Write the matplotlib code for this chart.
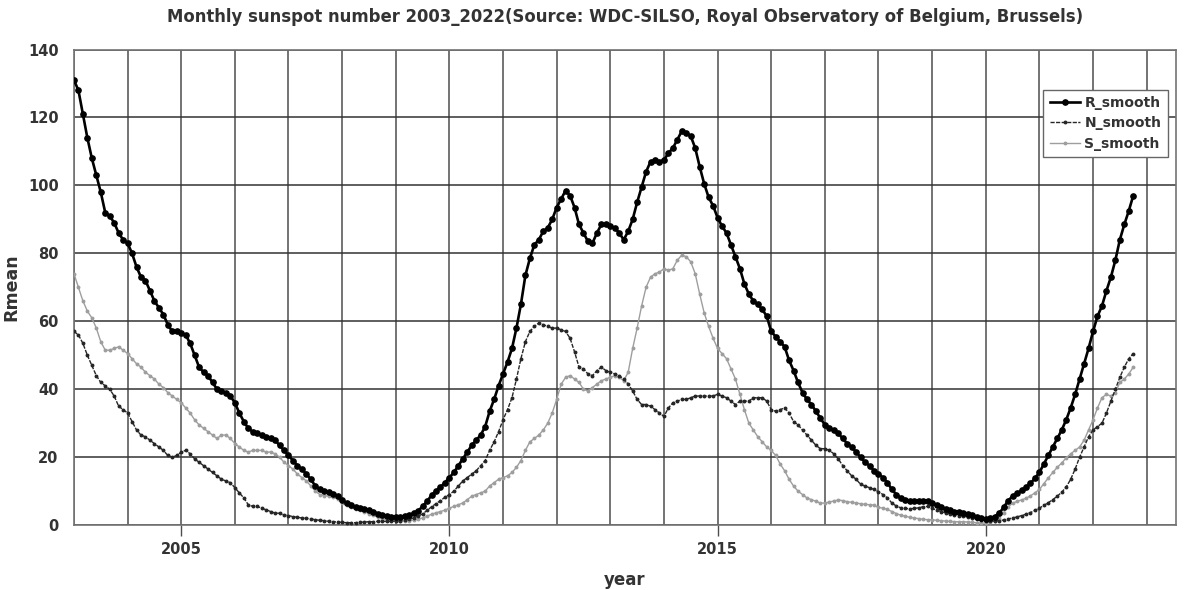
import matplotlib
matplotlib.use("Agg")
import matplotlib.pyplot as plt
from matplotlib.ticker import MultipleLocator, FixedLocator

# 13-month smoothed sunspot numbers (Jan 2003 .. Oct 2022)
r_smooth = [
    131, 128, 121, 114, 108, 103, 98, 92, 91, 89, 86, 84,                  # 2003
    83, 80, 76, 73, 72, 69, 66, 64, 62, 59, 57, 57,                        # 2004
    56.5, 56, 53.5, 50, 46.5, 45, 44, 42, 40, 39.5, 39, 38,                # 2005
    36, 33, 30.5, 28.5, 27.5, 27, 26.5, 26, 25.5, 25, 23.5, 22,            # 2006
    20.5, 19, 17.5, 16.5, 15, 13.5, 11.5, 10.5, 10, 9.8, 9.3, 8.5,         # 2007
    7.3, 6.5, 5.9, 5.4, 5.1, 4.8, 4.4, 3.9, 3.4, 3.0, 2.7, 2.5,            # 2008
    2.3, 2.4, 2.6, 3.0, 3.5, 4.2, 5.5, 7.0, 8.8, 10.0, 11.2, 12.5,         # 2009
    14, 15.5, 17.5, 19.5, 21.5, 23.5, 25, 26.5, 29, 33.5, 37, 41,          # 2010
    44.5, 48, 52, 58, 65, 73.5, 78.5, 82.5, 84, 86.5, 87.5, 90,            # 2011
    93.5, 96, 98.5, 97, 93.5, 88.5, 86, 83.5, 83, 86, 88.5, 88.5,          # 2012
    88, 87.5, 86, 84, 86.5, 90, 95, 99.5, 104, 107, 107.5, 107,            # 2013
    107.5, 109.5, 111, 113.5, 116, 115.5, 114.5, 111, 105.5, 100.5, 96.5, 94,  # 2014
    90.5, 88, 86, 82.5, 79, 75.5, 71, 68, 66, 65, 63.5, 61.5,              # 2015
    57, 55.5, 54, 52.5, 48.5, 45.5, 42, 39, 37, 35.5, 33.5, 31.5,          # 2016
    29.5, 28.5, 28, 27, 25.5, 24, 23, 21.5, 20, 18.5, 17.5, 16,            # 2017
    15, 14, 12.5, 10.5, 9, 8, 7.5, 7, 7, 7, 7.2, 7.2,                      # 2018
    6.6, 5.8, 5.2, 4.7, 4.3, 4.0, 3.9, 3.6, 3.3, 2.9, 2.5, 2.1,            # 2019
    1.9, 2.1, 2.5, 3.5, 5.2, 7.2, 8.5, 9.4, 10.2, 11.1, 12.3, 13.8,        # 2020
    15.5, 18, 20.5, 23, 25.5, 28, 31, 34.5, 38.5, 43, 47.5, 52,            # 2021
    57, 61.5, 64.5, 69, 73, 78, 84, 88.5, 92.5, 97,                        # 2022
]

n_smooth = [
    57, 56, 53.5, 50, 47, 44, 42, 41, 40, 38, 35, 34,
    33, 30.5, 28, 26.5, 26, 25, 24, 23, 22, 20.5, 20, 20.5,
    21.5, 22, 21, 19.5, 18.5, 17.5, 16.5, 15.5, 14.5, 13.5, 13, 12.5,
    11, 9.5, 8, 6, 5.5, 5.5, 5, 4.5, 4, 3.5, 3.5, 3,
    2.8, 2.5, 2.3, 2.1, 2.0, 1.8, 1.6, 1.4, 1.3, 1.1, 1.0, 0.9,
    0.8, 0.7, 0.7, 0.7, 0.8, 0.9, 1.0, 1.0, 1.1, 1.1, 1.1, 1.1,
    1.2, 1.3, 1.5, 1.8, 2.1, 2.6, 3.3, 4.3, 5.4, 6.3, 7.2, 8.2,
    9, 10, 11.5, 13, 14, 15, 16, 17.5, 19, 22, 24.5, 27.5,
    31, 34, 37.5, 43, 49, 54, 57, 58.5, 59.5, 59, 58.5, 58,
    58, 57.5, 57, 55, 51, 46.5, 46, 44.5, 44, 45.5, 46.5, 45.5,
    45, 44.5, 44, 43, 41.5, 39.5, 37, 35.5, 35.5, 35, 34, 33,
    32, 34.5, 36, 36.5, 37, 37, 37.5, 38, 38, 38, 38, 38,
    38.5, 38, 37.5, 36.5, 35.5, 36.5, 36.5, 36.5, 37.5, 37.5, 37.5, 36.5,
    34, 33.5, 34, 34.5, 33, 30.5, 29.5, 28, 26.5, 25, 23.5, 22.5,
    22.5, 22, 21, 19.5, 17.5, 16, 14.5, 13.5, 12, 11.5, 11, 10.5,
    9.8, 9, 8, 6.5, 5.6, 5.1, 4.9, 4.8, 4.9, 5.1, 5.4, 5.5,
    4.9, 4.4, 4.0, 3.6, 3.3, 3.0, 2.8, 2.6, 2.4, 2.1, 1.8, 1.5,
    1.3, 1.2, 1.2, 1.3, 1.5, 1.8, 2.1, 2.4, 2.8, 3.2, 3.7, 4.3,
    5, 5.8, 6.6, 7.5, 8.5, 9.7, 11.2, 13.5, 16.5, 20, 23, 26,
    28, 29, 30, 33, 36.5, 40, 43.5, 46.5, 49, 50.5,
]

s_smooth = [
    74, 70, 66, 63, 61, 58, 54, 51.5, 51.5, 52, 52.5, 51.5,
    50.5, 49, 47.5, 46.5, 45, 44, 43, 41.5, 40.5, 39, 38, 37,
    36, 34.5, 33, 31, 29.5, 28.5, 27.5, 26.5, 25.5, 26.5, 26.5, 25.5,
    24, 23, 22, 21.5, 22, 22, 22, 21.5, 21.5, 21, 20, 18.5,
    17.5, 16.5, 15, 14, 13, 11.5, 10, 9, 8.7, 8.5, 8.2, 7.8,
    6.5, 5.8, 5.2, 4.7, 4.3, 3.9, 3.4, 2.9, 2.3, 1.9, 1.6, 1.4,
    1.2, 1.2, 1.2, 1.3, 1.5, 1.7, 2.1, 2.6, 3.2, 3.6, 4.0, 4.4,
    5, 5.5, 6, 6.5, 7.5, 8.5, 9, 9.5, 10, 11.5, 12.5, 13.5,
    14, 14.5, 15.5, 17, 19, 22, 24.5, 25.5, 26.5, 28, 30, 33,
    37, 41.5, 43.5, 44, 43, 42, 40, 39.5, 40.5, 41.5, 42.5, 43,
    43.5, 44, 43.5, 42.5, 45, 52, 58, 64.5, 70, 73, 74, 74.5,
    75.5, 75, 75.5, 78, 79.5, 79, 77.5, 74, 68, 62.5, 58.5, 55,
    52, 50.5, 49, 46, 43, 38.5, 34, 30, 28, 26, 24.5, 23,
    22, 20.5, 18, 16, 13.5, 11.5, 10, 9, 8, 7.5, 7, 6.5,
    6.5, 6.8, 7.1, 7.4, 7.2, 6.9, 6.7, 6.5, 6.3, 6.1, 6.0, 5.9,
    5.2, 5.0, 4.6, 4.0, 3.4, 2.9, 2.6, 2.3, 2.1, 1.9, 1.7, 1.6,
    1.6, 1.4, 1.3, 1.2, 1.1, 1.0, 1.0, 1.0, 0.9, 0.8, 0.7, 0.6,
    0.6, 0.9, 1.3, 2.2, 3.7, 5.4, 6.4, 7.0, 7.4, 7.9, 8.6, 9.5,
    10.5, 12.2, 13.9, 15.5, 17, 18.3, 19.8, 21, 22, 23, 25, 28,
    31, 34.5, 37.5, 38.5, 38, 39, 42, 43, 44.5, 46.5,
]

start_year = 2003
years = [start_year + i / 12 for i in range(len(r_smooth))]

fig = plt.figure(figsize=(11.89, 5.90), dpi=100)
ax = fig.add_axes([0.0622, 0.110, 0.927, 0.806])

ax.plot(years, s_smooth, color='0.62', lw=1.0, marker='o', ms=1.8, mec='0.62', label='S_smooth', zorder=3)
ax.plot(years, n_smooth, color='0.15', lw=1.0, ls=(0, (3, 1)), marker='o', ms=1.8, mec='0.15', label='N_smooth', zorder=4)
ax.plot(years, r_smooth, color='black', lw=1.9, marker='o', ms=3.8, label='R_smooth', zorder=5)

ax.set_xlim(2003, 2023.55)
ax.set_ylim(0, 140)
ax.xaxis.set_major_locator(FixedLocator([2005, 2010, 2015, 2020]))
ax.xaxis.set_minor_locator(MultipleLocator(1))
ax.yaxis.set_major_locator(MultipleLocator(20))
ax.grid(True, which='both', axis='x', color='0.3', lw=1.1)
ax.grid(True, which='major', axis='y', color='0.2', lw=1.1)
ax.set_axisbelow(True)

ax.tick_params(axis='x', which='major', length=8, width=1, color='0.3', direction='out', labelsize=10.5, pad=4)
ax.tick_params(axis='x', which='minor', length=0)
ax.tick_params(axis='y', length=0, labelsize=10.5, pad=11)
for lab in ax.get_xticklabels() + ax.get_yticklabels():
    lab.set_fontweight('bold')
    lab.set_color('#333333')

for sp in ax.spines.values():
    sp.set_color('0.45')
    sp.set_linewidth(1.2)

ax.set_xlabel('year', fontsize=12, fontweight='bold', color='#333333', labelpad=10)
ax.set_ylabel('Rmean', fontsize=12.5, fontweight='bold', color='#333333')
ax.yaxis.set_label_coords(-0.049, 0.5)
ax.set_title('Monthly sunspot number 2003_2022(Source: WDC-SILSO, Royal Observatory of Belgium, Brussels)',
             fontsize=11.9, fontweight='bold', color='#333333', pad=20)

handles, labels = ax.get_legend_handles_labels()
order = [2, 1, 0]
leg = ax.legend([handles[i] for i in order], [labels[i] for i in order],
                loc='upper right', bbox_to_anchor=(0.9985, 0.93), fancybox=False,
                framealpha=1, edgecolor='0.4', prop={'size': 10, 'weight': 'bold'},
                handlelength=2.2, handletextpad=0.3, borderpad=0.45, labelspacing=0.45)
leg.get_frame().set_linewidth(1.0)
for t in leg.get_texts():
    t.set_color('#333333')

fig.savefig('out.png', dpi=100)
